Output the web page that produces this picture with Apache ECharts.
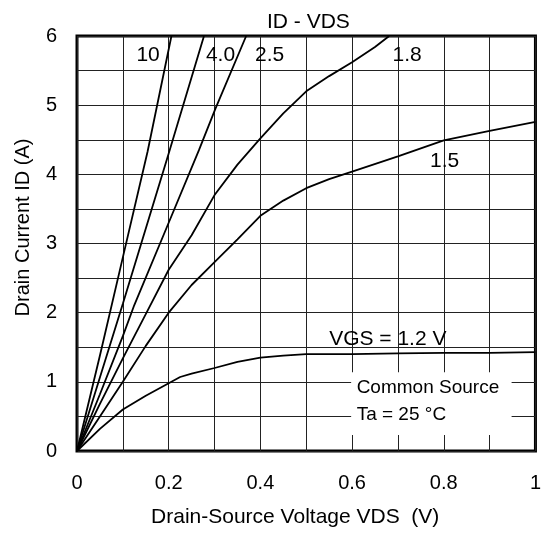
<!DOCTYPE html>
<html>
<head>
<meta charset="utf-8">
<script src="https://cdn.jsdelivr.net/npm/echarts@6/dist/echarts.min.js"></script>
<style>
  html, body { margin: 0; padding: 0; background: #fff; }
  #main { width: 544px; height: 534px; }
</style>
</head>
<body>
<div id="main"></div>
<script>
// ID - VDS curves, one array of [VDS, ID] per gate voltage
var vgs10 = [[0, 0], [0.05, 1.38], [0.1, 2.8], [0.154, 4.33], [0.206, 6.0]];
var vgs40 = [[0, 0], [0.1, 2.13], [0.2, 4.3], [0.277, 6.0]];
var vgs25 = [[0, 0], [0.05, 0.82], [0.1, 1.66], [0.125, 2.11], [0.2, 3.3], [0.266, 4.35], [0.302, 4.95], [0.369, 6.0]];
var vgs18 = [[0, 0], [0.05, 0.68], [0.1, 1.34], [0.15, 1.98], [0.2, 2.62], [0.25, 3.12], [0.3, 3.7],
  [0.35, 4.14], [0.4, 4.52], [0.45, 4.88], [0.5, 5.2], [0.55, 5.42], [0.6, 5.62], [0.65, 5.84], [0.681, 6.0]];
var vgs15 = [[0, 0], [0.05, 0.5], [0.1, 1.0], [0.15, 1.52], [0.2, 2.0], [0.25, 2.4], [0.3, 2.73],
  [0.35, 3.06], [0.4, 3.4], [0.45, 3.62], [0.5, 3.8], [0.55, 3.93], [0.6, 4.04], [0.7, 4.26],
  [0.8, 4.49], [0.9, 4.63], [1.0, 4.76]];
var vgs12 = [[0, 0], [0.05, 0.32], [0.1, 0.6], [0.15, 0.8], [0.2, 0.98], [0.225, 1.07], [0.25, 1.12],
  [0.3, 1.2], [0.35, 1.29], [0.4, 1.35], [0.45, 1.38], [0.5, 1.4], [0.6, 1.4], [0.7, 1.41],
  [0.8, 1.42], [0.9, 1.42], [1.0, 1.43]];

// curve labels [x, y, text]
var curveLabels = [
  [0.155, 5.72, '10'], [0.313, 5.72, '4.0'], [0.42, 5.72, '2.5'],
  [0.72, 5.72, '1.8'], [0.802, 4.19, '1.5'], [0.678, 1.62, 'VGS = 1.2 V']
];
var noteLabels = [[0.61, 0.91, 'Common Source'], [0.61, 0.52, 'Ta = 25 °C']];
var noteBox = [[0.598, 1.14], [0.948, 0.23]];

var font = 'Liberation Sans, Arial, Helvetica, sans-serif';
var chart = echarts.init(document.getElementById('main'));

function curve(d) {
  return {
    type: 'line', data: d, showSymbol: false, symbol: 'none', smooth: false,
    lineStyle: { color: '#000', width: 1.8 }, z: 3
  };
}

function textSeries(d, fontSize, pos) {
  return {
    type: 'scatter', symbolSize: 0, z: 4, silent: true,
    itemStyle: { opacity: 1, color: '#000' },
    data: d,
    label: {
      show: true, position: pos, distance: 0, color: '#000', fontSize: fontSize, fontFamily: font,
      textBorderWidth: 0, textBorderColor: 'transparent', opacity: 1,
      formatter: function (p) { return p.value[2]; }
    }
  };
}

var option = {
  animation: false,
  textStyle: { fontFamily: font },
  title: {
    text: 'ID - VDS', left: 262, top: 7,
    textStyle: { fontSize: 21, fontWeight: 'normal', color: '#000', fontFamily: font }
  },
  grid: {
    left: 77, right: 7, top: 36, bottom: 83,
    show: true, borderColor: '#000', borderWidth: 3
  },
  xAxis: {
    type: 'value', min: 0, max: 1, interval: 0.2,
    name: 'Drain-Source Voltage VDS  (V)', nameLocation: 'middle', nameGap: 56,
    nameTextStyle: { fontSize: 21, color: '#000', padding: [0, 22, 0, 0] },
    axisLine: { show: false }, axisTick: { show: false },
    axisLabel: { fontSize: 20, color: '#000', margin: 22 },
    splitLine: { show: true, lineStyle: { color: '#222', width: 1 } },
    minorTick: { show: false, splitNumber: 2 },
    minorSplitLine: { show: true, lineStyle: { color: '#222', width: 1 } }
  },
  yAxis: {
    type: 'value', min: 0, max: 6, interval: 1,
    name: 'Drain Current ID (A)', nameLocation: 'middle', nameGap: 44,
    nameTextStyle: { fontSize: 20, color: '#000', padding: [0, 0, 0, 32] },
    axisLine: { show: false }, axisTick: { show: false },
    axisLabel: { fontSize: 20, color: '#000', margin: 20 },
    splitLine: { show: true, lineStyle: { color: '#222', width: 1 } },
    minorTick: { show: false, splitNumber: 2 },
    minorSplitLine: { show: true, lineStyle: { color: '#222', width: 1 } }
  },
  series: [
    curve(vgs10), curve(vgs40), curve(vgs25), curve(vgs18), curve(vgs15), curve(vgs12),
    {
      type: 'line', data: [], z: 1,
      markArea: {
        silent: true,
        itemStyle: { color: '#fff', opacity: 1 },
        data: [[{ coord: noteBox[0] }, { coord: noteBox[1] }]]
      }
    },
    textSeries(curveLabels, 21, 'inside'),
    textSeries(noteLabels, 19, 'right')
  ]
};

chart.setOption(option);
</script>
</body>
</html>
